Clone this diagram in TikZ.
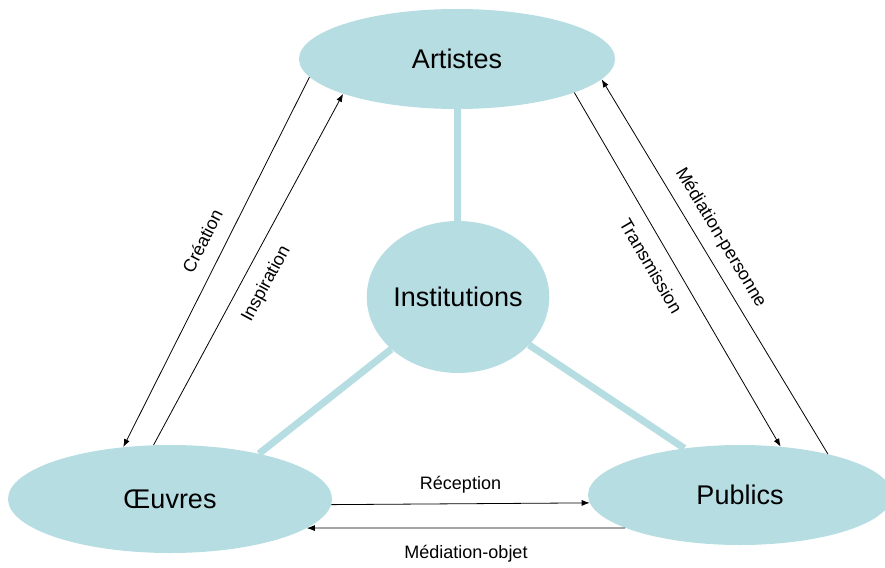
\documentclass[tikz,border=0pt]{standalone}
\usepackage{fontspec}
\setmainfont{Liberation Sans}
\usetikzlibrary{shapes.geometric,arrows.meta}

\definecolor{pale}{RGB}{182,221,226}

\begin{document}
\begin{tikzpicture}[x=1pt,y=-1pt,
  blob/.style={ellipse, fill=pale, inner sep=0pt, font=\fontsize{27}{32}\selectfont},
  link/.style={pale, line width=7pt},
  arr/.style={-{Latex[length=8pt,width=6pt]}, line width=0.8pt},
  lab/.style={font=\fontsize{18}{21}\selectfont, inner sep=2pt}]

\useasboundingbox (0,0) rectangle (885,567);

\node[blob, minimum width=316pt, minimum height=100pt] (art) at (457,59) {Artistes};
\node[blob, minimum width=164pt, minimum height=152pt] (inst) at (458,297) {Institutions};
\node[blob, minimum width=324pt, minimum height=108pt] (oeu) at (170,499) {Œuvres};
\node[blob, minimum width=304pt, minimum height=100pt] (pub) at (740,495) {Publics};

% liens vers les institutions
\draw[link] (art.south) -- (art.south |- inst.north);
\draw[link] (inst.218) -- (oeu.27);
\draw[link] (inst.326) -- (pub.140);

% fleches
\draw[arr] (art.187) -- node[lab, sloped, above=13pt, pos=.47] {Création} (oeu.132);
\draw[arr] (oeu.107) -- node[lab, sloped, below=12pt, pos=.49] {Inspiration} (art.197);
\draw[arr] (art.344) -- node[lab, sloped, below=12pt, pos=.46] {Transmission} (pub.50);
\draw[arr] (pub.25) -- node[lab, sloped, above=9pt, pos=.55] {Médiation-personne} (art.352);
\draw[arr] (oeu.358) -- node[lab, above=8pt] {Réception} (pub.183.5);
\draw[arr] (pub.196) -- node[lab, below=15pt] {Médiation-objet} (oeu.348);

\end{tikzpicture}
\end{document}
